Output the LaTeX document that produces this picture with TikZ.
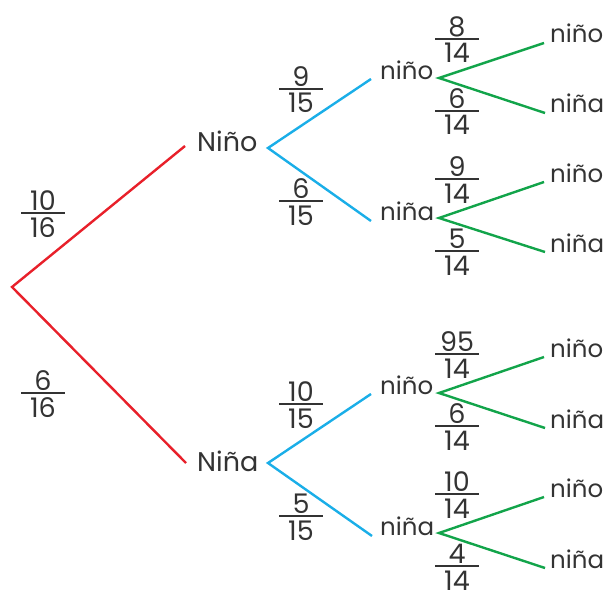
\documentclass[tikz,border=0pt]{standalone}
\usepackage{fontspec}
\setmainfont{Poppins}
\definecolor{txt}{HTML}{333333}
\definecolor{cred}{HTML}{E8202A}
\definecolor{cblue}{HTML}{1AAEE8}
\definecolor{cgreen}{HTML}{12A44A}
\tikzset{
  lab/.style={text=txt,font=\fontsize{24.5}{28}\selectfont,inner sep=0pt,anchor=base west},
  biglab/.style={lab,font=\fontsize{27}{30}\selectfont},
  num/.style={text=txt,font=\fontsize{27}{30}\selectfont,inner sep=0pt,anchor=base},
  fbar/.style={draw=txt,line width=1.3pt},
  redl/.style={draw=cred,line width=2.4pt},
  bluel/.style={draw=cblue,line width=2.4pt},
  greenl/.style={draw=cgreen,line width=2.4pt},
}
\newcommand\fr[5]{%
  \node[num] (#1n) at (#2,#3-2.5) {#4};
  \node[num] (#1d) at (#2,#3+24) {#5};
  \draw[fbar] (#2-22,#3) -- (#2+22,#3);}
\begin{document}
\begin{tikzpicture}[x=1pt,y=-1pt]
\useasboundingbox (0,0) rectangle (610,591);
% level 1
\coordinate (root) at (12,287);
\coordinate (A-in) at (185,146);
\coordinate (A-out) at (268,148);
\node[biglab] (A) at (197,151) {Niño};
\coordinate (B-in) at (186,463);
\coordinate (B-out) at (268,463);
\node[biglab] (B) at (197,471) {Niña};
\draw[redl] (A-in) -- (root) -- (B-in);
\fr{f1}{43}{213}{10}{16}
\fr{f2}{43}{393}{6}{16}
% level 2 upper
\coordinate (AA-in) at (371,79);
\coordinate (AB-in) at (371,221);
\node[lab] (AA) at (380,80) {niño};
\node[lab] (AB) at (380,220) {niña};
\coordinate (AA-out) at (439,78);
\coordinate (AB-out) at (439,218);
\draw[bluel] (AA-in) -- (A-out) -- (AB-in);
\fr{f3}{301}{89}{9}{15}
\fr{f4}{301}{201}{6}{15}
% level 2 lower
\coordinate (BA-in) at (371,394);
\coordinate (BB-in) at (372,536);
\node[lab] (BA) at (380,394) {niño};
\node[lab] (BB) at (380,535) {niña};
\coordinate (BA-out) at (439,393);
\coordinate (BB-out) at (439,533);
\draw[bluel] (BA-in) -- (B-out) -- (BB-in);
\fr{f5}{301}{404}{10}{15}
\fr{f6}{301}{516}{5}{15}
% level 3
\coordinate (L1) at (544,43);
\coordinate (L2) at (545,113);
\coordinate (L3) at (544,182);
\coordinate (L4) at (545,252);
\coordinate (L5) at (544,357);
\coordinate (L6) at (545,428);
\coordinate (L7) at (544,497);
\coordinate (L8) at (545,568);
\node[lab] (N1) at (550,43) {niño};
\node[lab] (N2) at (550,113) {niña};
\node[lab] (N3) at (550,182) {niño};
\node[lab] (N4) at (550,252) {niña};
\node[lab] (N5) at (550,357) {niño};
\node[lab] (N6) at (550,428) {niña};
\node[lab] (N7) at (550,497) {niño};
\node[lab] (N8) at (550,568) {niña};
\draw[greenl] (L1) -- (AA-out) -- (L2);
\draw[greenl] (L3) -- (AB-out) -- (L4);
\draw[greenl] (L5) -- (BA-out) -- (L6);
\draw[greenl] (L7) -- (BB-out) -- (L8);
\fr{f7}{457}{39}{8}{14}
\fr{f8}{457}{111}{6}{14}
\fr{f9}{457}{179}{9}{14}
\fr{f10}{457}{251}{5}{14}
\fr{f11}{457}{354}{95}{14}
\fr{f12}{457}{426}{6}{14}
\fr{f13}{457}{494}{10}{14}
\fr{f14}{457}{566}{4}{14}
\end{tikzpicture}
\end{document}
